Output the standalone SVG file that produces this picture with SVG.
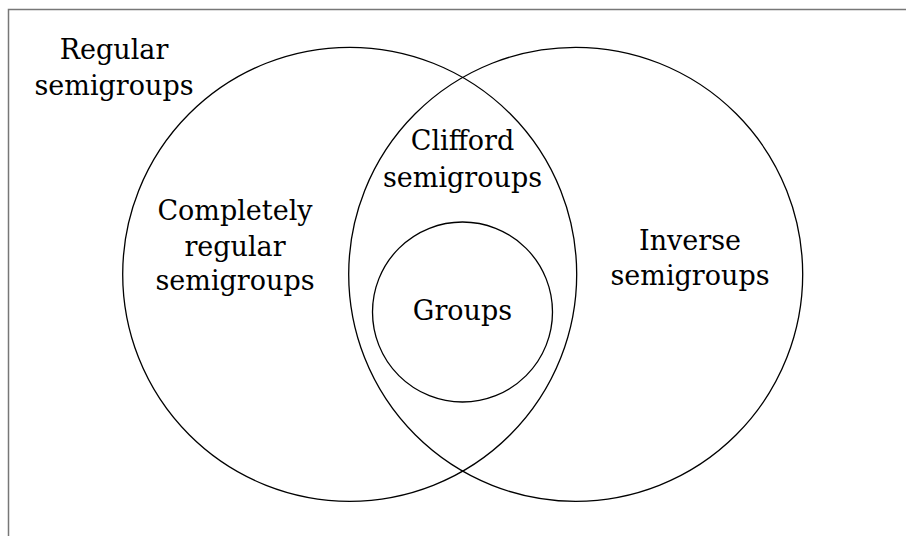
<svg xmlns="http://www.w3.org/2000/svg" width="906" height="536" viewBox="0 0 906 536">
<style>
.c{fill:none;stroke:#000;stroke-width:1.3}
.t{font-family:'DejaVu Serif',serif;font-size:27px;fill:#000;text-anchor:middle}
</style>
<rect x="0" y="0" width="906" height="536" fill="#fff"/>
<rect x="8.5" y="9.5" width="920" height="560" fill="none" stroke="#777" stroke-width="1.5"/>
<g id="regular">
<circle class="c" cx="349.7" cy="274.3" r="227"/>
<text class="t" x="114" y="59">Regular</text>
<text class="t" x="114" y="95">semigroups</text>
</g>
<g id="inverse">
<circle class="c" cx="575.7" cy="274.3" r="227"/>
<text class="t" x="690" y="250">Inverse</text>
<text class="t" x="690" y="285">semigroups</text>
</g>
<g id="completely-regular">
<text class="t" x="235" y="220">Completely</text>
<text class="t" x="235" y="256">regular</text>
<text class="t" x="235" y="290">semigroups</text>
</g>
<g id="clifford">
<text class="t" x="462.5" y="150">Clifford</text>
<text class="t" x="462.5" y="187">semigroups</text>
</g>
<g id="groups">
<circle class="c" cx="462.5" cy="312" r="90"/>
<text class="t" x="462.5" y="320">Groups</text>
</g>
<g id="connectors"/>
</svg>
